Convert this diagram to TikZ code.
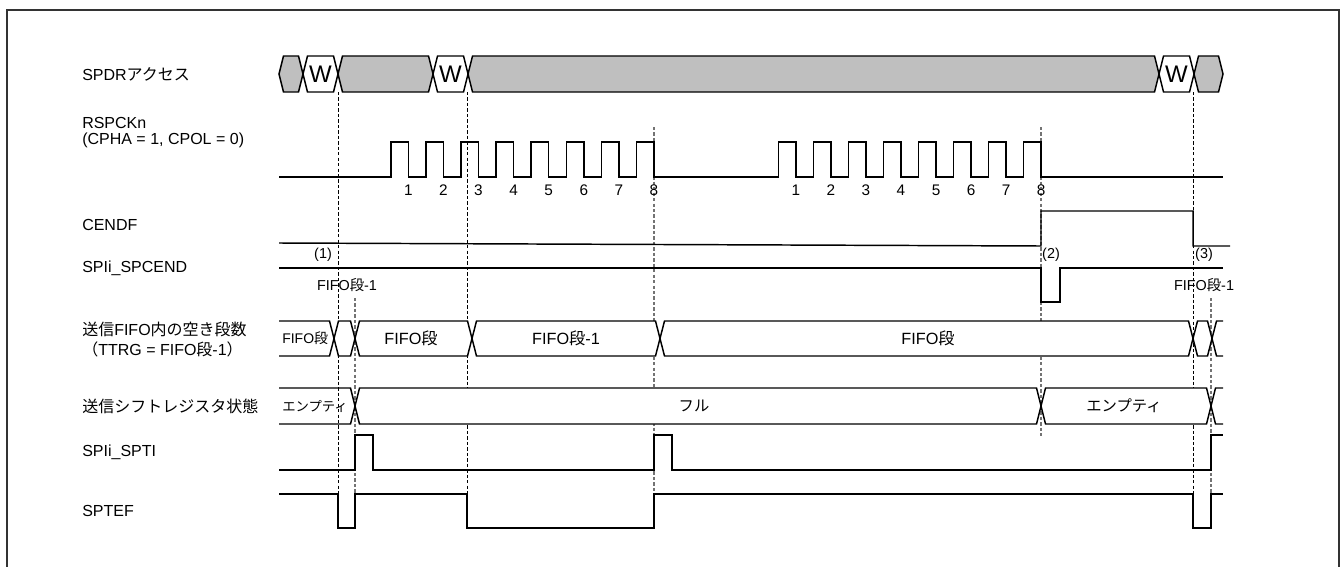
\documentclass[tikz,border=0pt]{standalone}
\usepackage{fontspec}
\setmainfont{Liberation Sans}
\newfontfamily\jp{Noto Sans CJK JP}
\begin{document}
\begin{tikzpicture}[x=0.75pt,y=-0.75pt,
  wave/.style={draw=black, line width=1.1pt, line join=miter},
  frameline/.style={draw=black!80, line width=1.2pt},
  dashblk/.style={draw=black, line width=0.6pt, dash pattern=on 2.5pt off 1.6pt},
  dashgry/.style={draw=black!55, line width=0.8pt, dash pattern=on 2.5pt off 1.6pt},
  lbl/.style={anchor=west, inner sep=0pt, font=\fontsize{12}{12}\selectfont, align=left},
  rowtxt/.style={inner sep=0pt, font=\fontsize{12.2}{13}\selectfont},
  smalltxt/.style={inner sep=0pt, font=\fontsize{10.8}{12}\selectfont},
  wtxt/.style={inner sep=0pt, font=\fontsize{18}{18}\selectfont},
  numtxt/.style={inner sep=0pt, font=\fontsize{11.5}{12}\selectfont}]
\useasboundingbox (0,0) rectangle (1341,567);
% frame
\draw[frameline] (7,575) -- (7,10) -- (1339,10) -- (1339,575);

% labels
\node[lbl] (lspdr) at (82,74) {SPDR{\jp アクセス}};
\node[lbl] (lrspck) at (82,133) {RSPCKn\\(CPHA = 1, CPOL = 0)};
\node[lbl] (lcendf) at (82,225) {CENDF};
\node[lbl] (lspcend) at (82,268) {SPIi\_SPCEND};
\node[lbl, font=\fontsize{12}{15}\selectfont] (lfifo) at (82,340) {{\jp 送信}FIFO{\jp 内の空き段数}\\{\jp （}TTRG = FIFO{\jp 段}-1{\jp ）}};
\node[lbl] (lshift) at (82,406) {{\jp 送信シフトレジスタ状態}};
\node[lbl] (lspti) at (82,452) {SPIi\_SPTI};
\node[lbl] (lsptef) at (82,511) {SPTEF};

% dashed guide lines
\draw[dashblk] (338,92) -- (338,528);
\draw[dashblk] (467,92) -- (467,494);
\draw[dashblk] (1193,92) -- (1193,528);
\draw[dashgry] (355,298) -- (355,494);
\draw[dashgry] (654,127) -- (654,494);
\draw[dashgry] (1041,127) -- (1041,436);
\draw[dashgry] (1211,298) -- (1211,494);

% SPDR access bus
\newcommand\hexseg[5]{\draw[wave, fill=#5] (#1,{(#3+#4)/2}) -- ({#1+4.5},#3) -- ({#2-4.5},#3) -- (#2,{(#3+#4)/2}) -- ({#2-4.5},#4) -- ({#1+4.5},#4) -- cycle;}
\hexseg{279}{303}{56}{92}{black!25}
\hexseg{303}{338}{56}{92}{white}
\hexseg{338}{433}{56}{92}{black!25}
\hexseg{433}{468}{56}{92}{white}
\hexseg{468}{1159}{56}{92}{black!25}
\hexseg{1159}{1194}{56}{92}{white}
\hexseg{1194}{1223}{56}{92}{black!25}
\node[wtxt] (w1) at (320.5,74.5) {W};
\node[wtxt] (w2) at (450.5,74.5) {W};
\node[wtxt] (w3) at (1176.5,74.5) {W};

% RSPCKn
\draw[wave] (279,177)
  foreach \f in {408.3,443.4,478.5,513.6,548.7,583.8,618.9,654} { -- ({\f-17.5},177) -- ({\f-17.5},142) -- (\f,142) -- (\f,177) }
  foreach \f in {796,831,866,901,936,971,1006,1041} { -- ({\f-17.5},177) -- ({\f-17.5},142) -- (\f,142) -- (\f,177) }
  -- (1223,177);
\foreach \f [count=\i] in {408.3,443.4,478.5,513.6,548.7,583.8,618.9,654}
  \node[numtxt] (ca\i) at (\f,190) {\i};
\foreach \f [count=\i] in {796,831,866,901,936,971,1006,1041}
  \node[numtxt] (cb\i) at (\f,190) {\i};

% CENDF
\draw[wave] (279,243) -- (1041,246) -- (1041,211) -- (1193,211) -- (1193,246) -- (1230,246);
\node[smalltxt] (m1) at (323,255) {(1)};
\node[smalltxt] (m2) at (1051,255) {(2)};
\node[smalltxt] (m3) at (1204,255) {(3)};

% SPIi_SPCEND
\draw[wave] (279,268) -- (1041,268) -- (1041,302) -- (1060,302) -- (1060,268) -- (1223,268);
\node[smalltxt] (f1) at (347,285) {FIFO{\jp 段}-1};
\node[smalltxt] (f2) at (1204,285) {FIFO{\jp 段}-1};

% FIFO free stages bus
\draw[wave] (279,321) -- (329.5,321) -- (334,338.5) -- (329.5,356) -- (279,356);
\hexseg{334}{355}{321}{356}{white}
\hexseg{355}{472}{321}{356}{white}
\hexseg{472}{660}{321}{356}{white}
\hexseg{660}{1193}{321}{356}{white}
\hexseg{1193}{1212}{321}{356}{white}
\draw[wave] (1223,321) -- (1216.5,321) -- (1212,338.5) -- (1216.5,356) -- (1223,356);
\node[smalltxt, font=\fontsize{10.5}{12}\selectfont, anchor=west] (b1) at (282,338.5) {FIFO{\jp 段}};
\node[rowtxt] (b2) at (411,338.5) {FIFO{\jp 段}};
\node[rowtxt] (b3) at (566,338.5) {FIFO{\jp 段}-1};
\node[rowtxt] (b4) at (928,338.5) {FIFO{\jp 段}};

% shift register state bus
\draw[wave] (279,388) -- (350.5,388) -- (355,406) -- (350.5,424) -- (279,424);
\hexseg{355}{1041}{388}{424}{white}
\hexseg{1041}{1211}{388}{424}{white}
\draw[wave] (1223,388) -- (1215.5,388) -- (1211,406) -- (1215.5,424) -- (1223,424);
\node[smalltxt, font=\fontsize{10}{12}\selectfont, anchor=west] (s1) at (282,406) {{\jp エンプティ}};
\node[rowtxt, font=\fontsize{11.5}{12}\selectfont] (s2) at (694,406) {{\jp フル}};
\node[rowtxt, font=\fontsize{11.5}{12}\selectfont] (s3) at (1124,406) {{\jp エンプティ}};

% SPIi_SPTI
\draw[wave] (279,470) -- (355,470) -- (355,435) -- (373,435) -- (373,470) -- (654,470) -- (654,435) -- (672,435) -- (672,470) -- (1211,470) -- (1211,435) -- (1223,435);

% SPTEF
\draw[wave] (279,494) -- (338,494) -- (338,528) -- (355,528) -- (355,494) -- (467,494) -- (467,528) -- (654,528) -- (654,494) -- (1193,494) -- (1193,528) -- (1211,528) -- (1211,494) -- (1223,494);
\end{tikzpicture}
\end{document}
